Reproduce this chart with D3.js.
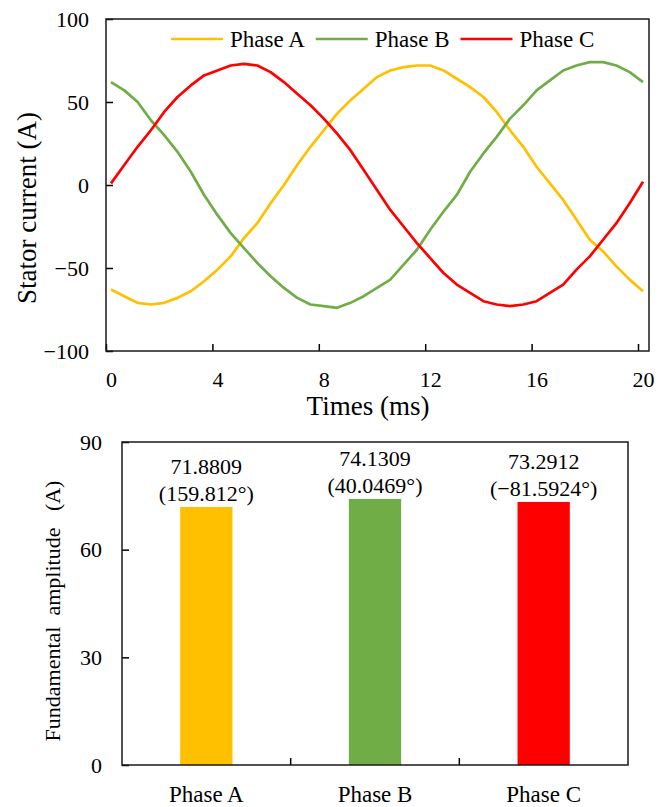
<!DOCTYPE html>
<html>
<head>
<meta charset="utf-8">
<script src="https://cdn.jsdelivr.net/npm/d3@7"></script>
<style>
  body { margin: 0; background: #fff; }
</style>
</head>
<body>
<svg width="659" height="807"></svg>
<script>
// time samples (ms) and the three stator currents
var times = [0, 0.5, 1, 1.5, 2, 2.5, 3, 3.5, 4, 4.5, 5, 5.5, 6, 6.5, 7, 7.5, 8, 8.5, 9, 9.5,
  10, 10.5, 11, 11.5, 12, 12.5, 13, 13.5, 14, 14.5, 15, 15.5, 16, 16.5, 17, 17.5, 18, 18.5, 19, 19.5, 20];
var phaseA = [-63, -67, -71, -72, -71, -68, -64, -58, -51, -43, -32, -23, -11, 0, 12, 23, 33, 43, 51, 58,
  65, 69, 71, 72, 72, 69, 64, 59, 53, 44, 33, 23, 11, 1, -9, -21, -33, -40, -49, -57, -64];
var phaseB = [62, 57, 50, 39, 30, 20, 8, -6, -18, -29, -38, -47, -55, -62, -68, -72, -73, -74, -71, -67,
  -62, -57, -48, -39, -27, -16, -6, 8, 19, 29, 40, 48, 57, 63, 69, 72, 74, 74, 72, 68, 62];
var phaseC = [1, 12, 23, 33, 44, 53, 60, 66, 69, 72, 73, 72, 68, 62, 55, 48, 40, 31, 21, 9,
  -3, -15, -25, -35, -44, -53, -60, -65, -70, -72, -73, -72, -70, -65, -60, -51, -43, -33, -23, -11, 2];

var phaseNames = ["Phase A", "Phase B", "Phase C"];
var phaseColors = ["#FFC000", "#70AD47", "#FF0000"];
var amplitudes = [71.8809, 74.1309, 73.2912];
var angles = ["159.812°", "40.0469°", "\u221281.5924°"];

var timeTicks = [0, 4, 8, 12, 16, 20];
var currentTicks = [-100, -50, 0, 50, 100];
var ampTicks = [0, 30, 60, 90];

var serif = "'Liberation Serif', 'Times New Roman', Times, serif";
var svg = d3.select("svg");

// ---------- top chart: currents ----------
var m1 = {left: 106, top: 19}, w1 = 543, h1 = 332;
var g1 = svg.append("g").attr("transform", "translate(" + m1.left + "," + m1.top + ")");

var x = d3.scaleLinear().domain([0, 20]).range([5, 537]);
var y = d3.scaleLinear().domain([-100, 100]).range([h1, 0]);

var xAxis = g1.append("g").attr("transform", "translate(0," + h1 + ")")
  .call(d3.axisBottom(x).tickValues(timeTicks).tickSizeInner(-7).tickSizeOuter(0).tickPadding(20));
xAxis.select(".domain").remove();
xAxis.selectAll("line").attr("transform", "translate(-5,0)").attr("stroke", "#000").attr("stroke-width", 1.5);
xAxis.selectAll("text").style("font-size", "22px");

var yAxis = g1.append("g")
  .call(d3.axisLeft(y).tickValues(currentTicks).tickSizeInner(-7).tickSizeOuter(0).tickPadding(17));
yAxis.select(".domain").remove();
yAxis.selectAll("line").attr("stroke", "#000").attr("stroke-width", 1.5);
yAxis.selectAll("text").style("font-size", "22px");

var line = d3.line()
  .x(function (d, i) { return x(times[i]); })
  .y(function (d) { return y(d); });

[phaseA, phaseB, phaseC].forEach(function (s, k) {
  g1.append("path").datum(s)
    .attr("fill", "none")
    .attr("stroke", phaseColors[k])
    .attr("stroke-width", 2.7)
    .attr("stroke-linejoin", "round")
    .attr("d", line);
});

g1.append("rect").attr("width", w1).attr("height", h1)
  .attr("fill", "none").attr("stroke", "#1a1a1a").attr("stroke-width", 1.5);

// legend
var lx = 65;
phaseNames.forEach(function (name, k) {
  var item = g1.append("g").attr("transform", "translate(" + lx + ",0)");
  item.append("line").attr("x1", 0).attr("x2", 52).attr("y1", 20).attr("y2", 20)
    .attr("stroke", phaseColors[k]).attr("stroke-width", 2.7);
  var t = item.append("text").attr("x", 59).attr("y", 28)
    .style("font-family", serif).style("font-size", "23px").text(name);
  lx += 59 + t.node().getComputedTextLength() + 11;
});

svg.append("text")
  .attr("transform", "translate(36,208) rotate(-90)")
  .attr("text-anchor", "middle")
  .style("font-size", "27px")
  .text("Stator current (A)");

svg.append("text")
  .attr("x", 368).attr("y", 415)
  .attr("text-anchor", "middle")
  .style("font-size", "27px")
  .text("Times (ms)");

// ---------- bottom chart: fundamental amplitudes ----------
var m2 = {left: 122, top: 442}, w2 = 506, h2 = 323;
var g2 = svg.append("g").attr("transform", "translate(" + m2.left + "," + m2.top + ")");

var xb = d3.scaleBand().domain(phaseNames).range([0, w2]).paddingInner(0.69).paddingOuter(0.345);
var yb = d3.scaleLinear().domain([0, 90]).range([h2, 0]);

g2.selectAll(".bar").data(amplitudes).enter().append("rect")
  .attr("class", "bar")
  .attr("x", function (d, i) { return xb(phaseNames[i]); })
  .attr("width", xb.bandwidth())
  .attr("y", function (d) { return yb(d); })
  .attr("height", function (d) { return h2 - yb(d); })
  .attr("fill", function (d, i) { return phaseColors[i]; });

var lab = g2.selectAll(".lab").data(amplitudes).enter().append("text")
  .attr("class", "lab")
  .attr("text-anchor", "middle")
  .style("font-size", "22px");
lab.append("tspan")
  .attr("x", function (d, i) { return xb(phaseNames[i]) + xb.bandwidth() / 2; })
  .attr("y", function (d) { return yb(d) - 33; })
  .text(function (d) { return d3.format(".4f")(d); });
lab.append("tspan")
  .attr("x", function (d, i) { return xb(phaseNames[i]) + xb.bandwidth() / 2; })
  .attr("y", function (d) { return yb(d) - 6; })
  .text(function (d, i) { return "(" + angles[i] + ")"; });

var xbAxis = g2.append("g").attr("transform", "translate(0," + h2 + ")")
  .call(d3.axisBottom(xb).tickSize(0).tickPadding(21));
xbAxis.select(".domain").remove();
xbAxis.selectAll("text").style("font-size", "23px");

// category boundary ticks
g2.selectAll(".sep").data([1, 2]).enter().append("line")
  .attr("x1", function (d) { return d * xb.step(); })
  .attr("x2", function (d) { return d * xb.step(); })
  .attr("y1", h2).attr("y2", h2 - 7)
  .attr("stroke", "#000").attr("stroke-width", 1.5);

var ybAxis = g2.append("g")
  .call(d3.axisLeft(yb).tickValues(ampTicks).tickSizeInner(-7).tickSizeOuter(0).tickPadding(20));
ybAxis.select(".domain").remove();
ybAxis.selectAll("line").attr("stroke", "#000").attr("stroke-width", 1.5);
ybAxis.selectAll("text").style("font-size", "22px");

g2.append("rect").attr("width", w2).attr("height", h2)
  .attr("fill", "none").attr("stroke", "#1a1a1a").attr("stroke-width", 1.5);

svg.append("text")
  .attr("transform", "translate(60,611) rotate(-90)")
  .attr("text-anchor", "middle")
  .style("font-size", "22px")
  .style("white-space", "pre")
  .text("Fundamental  amplitude   (A)");

// serif everywhere, overriding the axis default
svg.selectAll("g").attr("font-family", null);
svg.selectAll("text").style("font-family", serif).style("fill", "#000");
</script>
</body>
</html>
